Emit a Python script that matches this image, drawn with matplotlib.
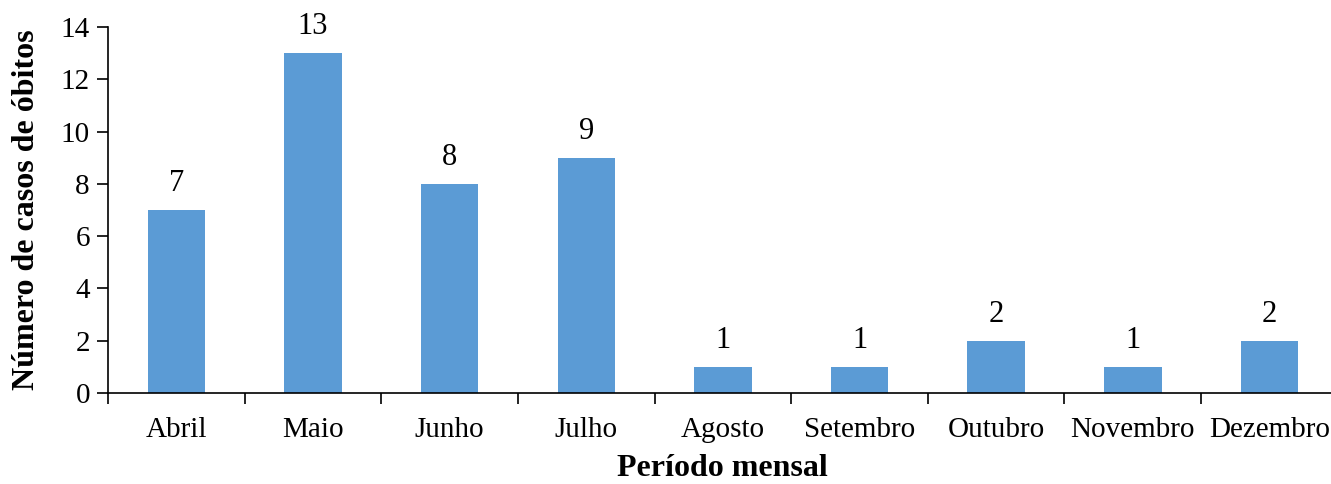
import matplotlib.pyplot as plt

meses = ['Abril', 'Maio', 'Junho', 'Julho', 'Agosto', 'Setembro',
         'Outubro', 'Novembro', 'Dezembro']
obitos = [7, 13, 8, 9, 1, 1, 2, 1, 2]

plt.rcParams['font.family'] = ['Liberation Serif', 'DejaVu Serif']

fig = plt.figure(figsize=(13.31, 4.84), dpi=100)
ax = fig.add_axes([0.0811, 0.188, 0.924, 0.756])

x = range(len(meses))
bars = ax.bar(x, obitos, width=0.42, color='#5B9BD5')
for b, v in zip(bars, obitos):
    ax.text(b.get_x() + b.get_width() / 2, v + 0.45, str(v),
            ha='center', va='bottom', fontsize=22)

ax.set_xlim(-0.5, len(meses) - 0.5)
ax.set_ylim(0, 14)
ax.set_yticks(range(0, 15, 2))
ax.set_xticks(list(x))
ax.set_xticklabels(meses, fontsize=21)
ax.set_xticks([i - 0.5 for i in range(len(meses) + 1)], minor=True)
ax.tick_params(axis='x', which='major', length=0, pad=17)
ax.tick_params(axis='x', which='minor', length=8, width=1.2)
ax.tick_params(axis='y', labelsize=21, length=8, width=1.2, pad=5)

for s in ['top', 'right']:
    ax.spines[s].set_visible(False)
ax.spines['left'].set_linewidth(1.2)
ax.spines['bottom'].set_linewidth(1.2)

ax.set_xlabel('Período mensal', fontsize=23, fontweight='bold', labelpad=8)
ax.set_ylabel('Número de casos de óbitos', fontsize=23, fontweight='bold', labelpad=14)

fig.savefig('out.png', dpi=100)
